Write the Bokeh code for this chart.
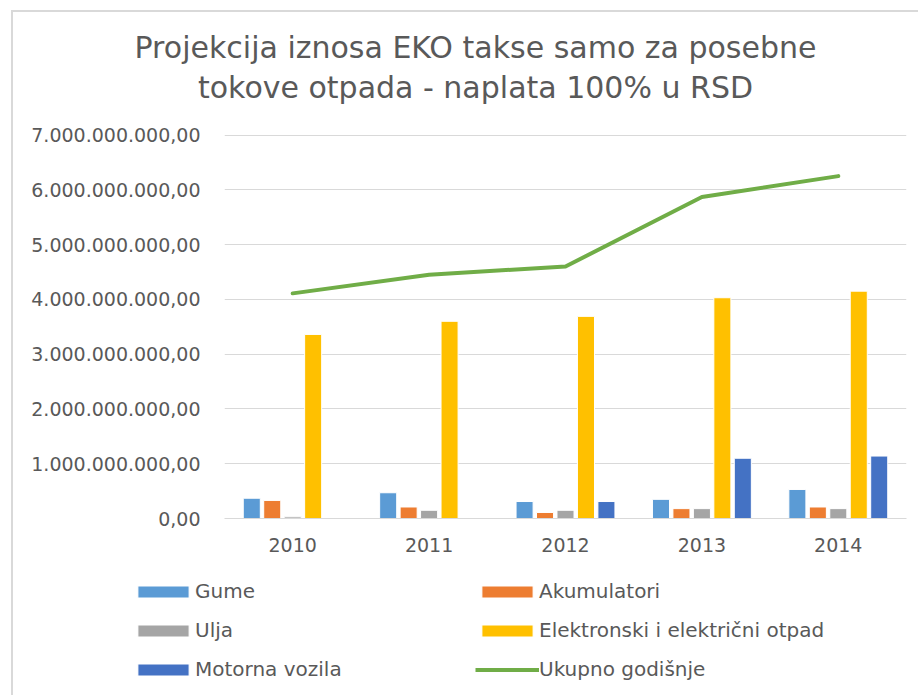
from bokeh.plotting import figure
from bokeh.models import (ColumnDataSource, FactorRange, Range1d, FixedTicker,
                          Legend, LegendItem, Label)
from bokeh.layouts import column
from bokeh.transform import dodge
from bokeh.embed import file_html
from bokeh.resources import INLINE

# ---- data -------------------------------------------------------------
years = ["2010", "2011", "2012", "2013", "2014"]
gume = [0.37e9, 0.47e9, 0.31e9, 0.35e9, 0.53e9]
akumulatori = [0.33e9, 0.21e9, 0.11e9, 0.18e9, 0.21e9]
ulja = [0.03e9, 0.15e9, 0.15e9, 0.18e9, 0.18e9]
elektronski = [3.36e9, 3.60e9, 3.69e9, 4.03e9, 4.15e9]
motorna = [0.0, 0.0, 0.31e9, 1.10e9, 1.14e9]
ukupno = [4.11e9, 4.45e9, 4.60e9, 5.87e9, 6.25e9]

y_ticks = [0, 1e9, 2e9, 3e9, 4e9, 5e9, 6e9, 7e9]
y_tick_labels = ["0,00", "1.000.000.000,00", "2.000.000.000,00",
                 "3.000.000.000,00", "4.000.000.000,00", "5.000.000.000,00",
                 "6.000.000.000,00", "7.000.000.000,00"]

series_names = ["Gume", "Akumulatori", "Ulja", "Elektronski i električni otpad",
                "Motorna vozila"]
line_name = "Ukupno godišnje"
title_lines = ["Projekcija iznosa EKO takse samo za posebne",
               "tokove otpada - naplata 100% u RSD"]

# ---- styles -----------------------------------------------------------
FONT = "DejaVu Sans"
TXT = "#595959"
GRID = "#d9d9d9"
colors = ["#5b9bd5", "#ed7d31", "#a5a5a5", "#ffc000", "#4472c4"]
line_color = "#70ad47"
offsets = [-0.3, -0.15, 0.0, 0.15, 0.3]

OX, OY = 13, 12          # chart-area origin on the page (inside the border)
W = 905


def blank_fig(h):
    f = figure(width=W, height=h, output_backend="svg", toolbar_location=None,
               x_range=FactorRange(*years), y_range=Range1d(0, 7.01e9),
               x_axis_type=None, y_axis_type=None, min_border=0,
               frame_align=False)
    f.outline_line_color = None
    f.grid.grid_line_color = None
    return f


# ---- title ------------------------------------------------------------
TH = 120 - OY
tf = blank_fig(TH)
for txt, base in zip(title_lines, [47, 87]):
    tf.add_layout(Label(x=475 - OX, y=TH - (base - OY), x_units="screen",
                        y_units="screen", text=txt, text_align="center",
                        text_baseline="alphabetic", text_font=FONT,
                        text_font_size="30px", text_color=TXT))

# ---- main chart -------------------------------------------------------
MH = 445  # page y 120 .. 565
src = ColumnDataSource(dict(year=years, gume=gume, akumulatori=akumulatori,
                            ulja=ulja, elektronski=elektronski,
                            motorna=motorna, ukupno=ukupno))
cols = ["gume", "akumulatori", "ulja", "elektronski", "motorna"]

p = figure(width=W, height=MH, output_backend="svg", toolbar_location=None,
           x_range=FactorRange(*years, range_padding=0),
           y_range=Range1d(0, 7.01e9), frame_align=False,
           min_border_left=224 - OX, min_border_right=W - (906 - OX),
           min_border_top=134 - 120, min_border_bottom=565 - 518)
p.x_range.factor_padding = 0
p.outline_line_color = None

bar_renderers = []
for col, off, c in zip(cols, offsets, colors):
    r = p.vbar(x=dodge("year", off, range=p.x_range), top=col, bottom=0,
               width=0.125, source=src, fill_color=c, line_color="white",
               line_width=1)
    bar_renderers.append(r)

lr = p.line(x="year", y="ukupno", source=src, line_color=line_color,
            line_width=4, line_cap="round", line_join="round")

p.yaxis.ticker = FixedTicker(ticks=y_ticks)
p.yaxis.major_label_overrides = {int(t): lab for t, lab in zip(y_ticks, y_tick_labels)}
p.yaxis.axis_line_color = None
p.yaxis.major_tick_line_color = None
p.yaxis.minor_tick_line_color = None
p.yaxis.major_label_standoff = 18
p.yaxis.major_label_text_font = FONT
p.yaxis.major_label_text_font_size = "19px"
p.yaxis.major_label_text_color = TXT

p.xaxis.axis_line_color = GRID
p.xaxis.axis_line_width = 1
p.xaxis.major_tick_line_color = None
p.xaxis.minor_tick_line_color = None
p.xaxis.major_label_standoff = 13
p.xaxis.major_label_text_font = FONT
p.xaxis.major_label_text_font_size = "19px"
p.xaxis.major_label_text_color = TXT

p.xgrid.grid_line_color = None
p.ygrid.grid_line_color = GRID
p.ygrid.grid_line_width = 1

# ---- legend (strip below the chart) -----------------------------------
LH = 130  # page y 565 .. 695
lf = blank_fig(LH)
# hidden copies of the series, used only to supply legend swatches
leg_bars = [lf.vbar(x="year", top=col, width=0.125, source=src, fill_color=c,
                    line_color="white", line_width=1, visible=False)
            for col, c in zip(cols, colors)]
leg_line = lf.line(x="year", y="ukupno", source=src, line_color=line_color,
                   line_width=4, visible=False)

col1 = [LegendItem(label=series_names[0], renderers=[leg_bars[0]]),
        LegendItem(label=series_names[2], renderers=[leg_bars[2]]),
        LegendItem(label=series_names[4], renderers=[leg_bars[4]])]
col2 = [LegendItem(label=series_names[1], renderers=[leg_bars[1]]),
        LegendItem(label=series_names[3], renderers=[leg_bars[3]]),
        LegendItem(label=line_name, renderers=[leg_line])]

legend_bottom = 695 - 681
for items, lx in [(col1, 131 - OX), (col2, 475 - OX)]:
    leg = Legend(items=items, location=(lx, legend_bottom), orientation="vertical",
                 glyph_width=64, glyph_height=15, label_standoff=0,
                 label_height=24, spacing=15, padding=0, margin=0,
                 border_line_color=None, background_fill_alpha=0,
                 label_text_font=FONT, label_text_font_size="20px",
                 label_text_color=TXT)
    lf.add_layout(leg, "center")

layout = column(tf, p, lf, spacing=0,
                styles={"margin-left": "11px", "margin-top": "10px",
                        "border-left": "2px solid #d9d9d9",
                        "border-top": "2px solid #d9d9d9"})
open("out.html", "w").write(file_html(layout, INLINE))
